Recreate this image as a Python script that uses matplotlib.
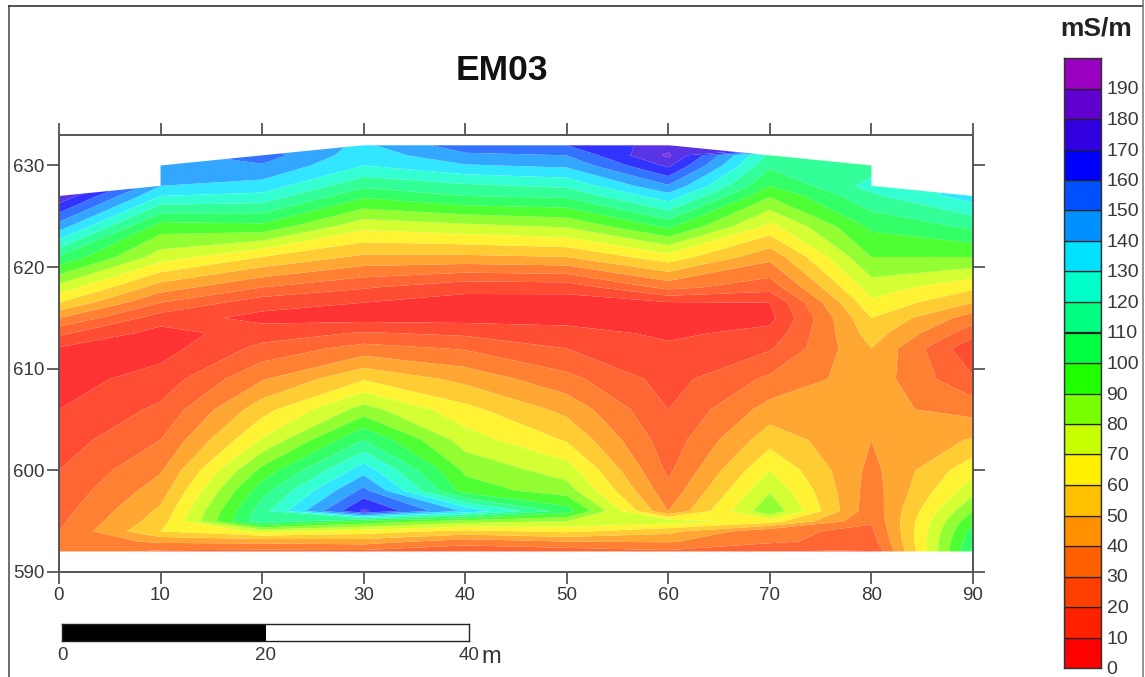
import numpy as np
import matplotlib
matplotlib.use("Agg")
import matplotlib.pyplot as plt
from matplotlib.patches import Polygon, Rectangle
from matplotlib.colors import to_rgb
from matplotlib.transforms import ScaledTranslation

plt.rcParams['font.family'] = ['Liberation Sans', 'DejaVu Sans']

W, H = 1145, 677
TEXT = '#383838'
LINE = '#555555'

# ---- data -----------------------------------------------------------
distance = [0, 10, 20, 30, 40, 50, 60, 70, 80, 90]
elevation = [592, 593, 594, 595, 596, 598, 600, 603, 606, 609, 612, 613.5, 615, 616.5,
             618, 621, 624, 627, 628, 630, 631, 632]
cond_x00 = [36, 33, 30, 28, 26, 23, 20, 15, 10, 6, 9, 22, 40, 60, 76, 109, 145, 178, 195, 195, 195, 195]
cond_x10 = [28, 42, 60, 55, 52, 45, 39, 30, 22, 14, 6, 6, 15, 30, 45, 75, 95, 130, 140, 147, 147, 147]
cond_x20 = [27, 43, 72, 118, 116, 106, 93, 71, 56, 39, 23, 15, 7, 14, 30, 60, 97, 127, 136, 149, 155, 150]
cond_x30 = [27, 45, 65, 98, 172, 153, 136, 110, 84, 59, 34, 21, 6, 10, 21, 48, 73, 102, 112, 130, 134, 138]
cond_x40 = [22, 35, 57, 85, 138, 95, 88, 75, 63, 47, 29, 18, 6, 6, 13, 48, 77, 110, 118, 139, 148, 156]
cond_x50 = [24, 40, 62, 80, 105, 85, 75, 59, 47, 33, 20, 14, 6, 5, 14, 50, 81, 112, 122, 142, 150, 160]
cond_x60 = [28, 41, 53, 75, 40, 33, 28, 24, 20, 16, 12, 8, 4, 9, 33, 66, 102, 136, 149, 172, 182, 175]
cond_x70 = [20, 32, 32, 65, 88, 79, 70, 56, 44, 32, 19, 13, 7, 10, 24, 43, 67, 91, 100, 112, 117, 195]
cond_x80 = [19, 25, 28, 31, 33, 35, 37, 40, 43, 46, 50, 55, 60, 68, 75, 90, 102, 118, 124, 115, 115, 115]
cond_x90 = [112, 108, 104, 98, 90, 76, 67, 51, 36, 21, 12, 24, 35, 50, 62, 90, 112, 135, 135, 135, 135, 135]
outline_x = [0, 0, 10, 10, 20, 30, 60, 70, 80, 80, 90, 90]
outline_y = [592, 627, 628, 630, 631, 632, 632, 631, 630, 628, 627, 592]
levels = list(range(0, 210, 10))
scale_ticks = [0, 20, 40]
scale_colors = ['#ff0000', '#ff2000', '#ff4000', '#ff6000', '#ff9000', '#ffc000', '#fff000',
                '#c8ff00', '#78ff00', '#20ff00', '#00ff40', '#00ff80', '#00ffc8', '#00e0ff',
                '#0090ff', '#0050ff', '#0000ff', '#3000e0', '#6000d0', '#9a00c0']
# ---------------------------------------------------------------------

Z = np.array([cond_x00, cond_x10, cond_x20, cond_x30, cond_x40, cond_x50,
              cond_x60, cond_x70, cond_x80, cond_x90], dtype=float).T
fill_colors = [tuple(0.8 * c + 0.2 for c in to_rgb(h)) for h in scale_colors]

fig = plt.figure(figsize=(W / 100, H / 100), dpi=100, facecolor='white')


def fx(px):
    return px / W


def fy(py):
    return 1 - py / H


ax = fig.add_axes([fx(59), fy(572), fx(973) - fx(59), fy(135) - fy(572)])
ax.set_xlim(0, 90)
ax.set_ylim(590, 633)
cs = ax.contourf(distance, elevation, Z, levels=levels, colors=fill_colors, antialiased=True)
clip = Polygon(np.column_stack([outline_x, outline_y]), closed=True, transform=ax.transData,
               facecolor='none', edgecolor='none')
ax.add_patch(clip)
cs.set_clip_path(clip)

ax.set_xticks(range(0, 100, 10))
ax.set_yticks(range(590, 640, 10))
ax.tick_params(axis='both', which='major', length=8.5, width=1.3, color=LINE,
               top=True, right=True, bottom=True, left=True,
               labeltop=False, labelright=False, labelsize=13.5, labelcolor=TEXT, pad=2)
for s in ax.spines.values():
    s.set_color(LINE)
    s.set_linewidth(1.4)

fig.text(fx(502), fy(71), 'EM03', fontsize=25.5, fontweight='bold', color='#111111',
         ha='center', va='center')

# colour scale
cax = fig.add_axes([fx(1064), fy(668), fx(1101) - fx(1064), fy(58) - fy(668)])
cax.set_xlim(0, 1)
cax.set_ylim(levels[0], levels[-1])
cax.bar([0.5] * len(scale_colors), [10] * len(scale_colors), bottom=levels[:-1], width=1,
        color=scale_colors, edgecolor='#222222', linewidth=0.9)
cax.set_xticks([])
cax.yaxis.tick_right()
cax.set_yticks(levels[:-1])
cax.tick_params(axis='y', length=0, pad=4, labelsize=14, labelcolor=TEXT)
shift = ScaledTranslation(0, -1.5 / 100, fig.dpi_scale_trans)
for lab in cax.get_yticklabels():
    lab.set_verticalalignment('center')
    lab.set_transform(lab.get_transform() + shift)
for s in cax.spines.values():
    s.set_color('#333333')
    s.set_linewidth(1.0)
fig.text(fx(1096), fy(29), 'mS/m', fontsize=19, fontweight='bold', color='#222222',
         ha='center', va='center')

# scale bar
sax = fig.add_axes([fx(62), fy(641), fx(469) - fx(62), fy(624) - fy(641)])
sax.set_xlim(scale_ticks[0], scale_ticks[-1])
sax.set_ylim(0, 1)
sax.add_patch(Rectangle((scale_ticks[0], 0), scale_ticks[1] - scale_ticks[0], 1, facecolor='black'))
sax.set_yticks([])
sax.set_xticks(scale_ticks)
sax.set_xticklabels([str(t) for t in scale_ticks])
sax.tick_params(axis='x', length=0, pad=4, labelsize=13.5, labelcolor=TEXT)
for s in sax.spines.values():
    s.set_color('#222222')
    s.set_linewidth(1.0)
fig.text(fx(491), fy(657), 'm', fontsize=17, color='#333333', ha='center', va='center')

# outer frame
for xs, ys, c in [((9, 9), (6, H), '#444444'), ((9, 1143), (6, 6), '#222222'),
                  ((1143, 1143), (0, H), '#777777')]:
    fig.add_artist(plt.Line2D([fx(x) for x in xs], [fy(y) for y in ys], color=c, linewidth=1.1))

fig.savefig('out.png', dpi=100, facecolor='white')
